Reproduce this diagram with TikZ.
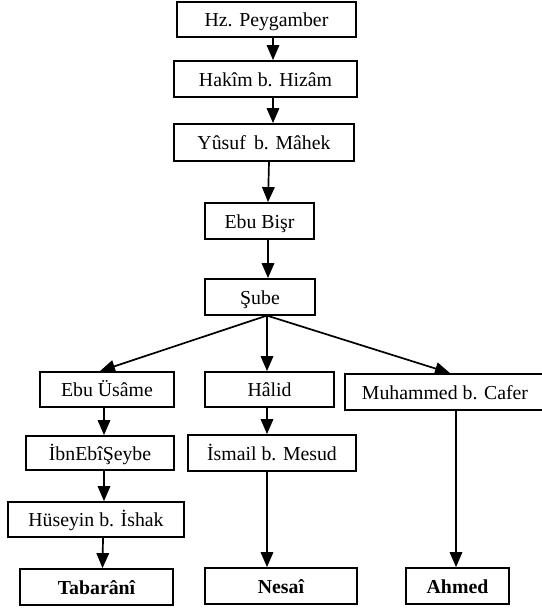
\documentclass[tikz,border=0pt]{standalone}
\usepackage{fontspec}
\setmainfont{Liberation Serif}
\usetikzlibrary{arrows.meta}
\begin{document}
\begin{tikzpicture}[x=1pt,y=-1pt,
  box/.style={draw, line width=1.8pt, inner sep=0pt, align=center,
    font=\fontsize{19.8}{22}\selectfont, text height=14pt, text depth=0pt},
  endbox/.style={box, font=\fontsize{19.8}{22}\selectfont\bfseries},
  arr/.style={line width=1.7pt, -{Triangle[length=15pt,width=12.5pt]}}]
\useasboundingbox (0,0) rectangle (541,610);
\fill[white] (0,0) rectangle (541,610);

% chain of narrators, top part
\node[box, minimum width=179pt, minimum height=35pt] (hz)     at (266.5,19.5) {Hz. Peygamber};
\node[box, minimum width=183pt, minimum height=36pt] (hakim)  at (265.5,79)   {Hakîm b. Hizâm};
\node[box, minimum width=180pt, minimum height=37pt] (yusuf)  at (264,142.5)  {Yûsuf\, b. Mâhek};
\node[box, minimum width=109pt, minimum height=36pt] (bisr)   at (259.5,221)  {Ebu Bişr};
\node[box, minimum width=110pt, minimum height=36pt] (sube)   at (260,297)    {Şube};

% three branches
\node[box, minimum width=134pt, minimum height=35pt] (usame)  at (107,389.5)  {Ebu Üsâme};
\node[box, minimum width=129pt, minimum height=35pt] (halid)  at (269.5,389.5){Hâlid};
\node[box, minimum width=200pt, minimum height=36pt] (muh)    at (445,392)    {Muhammed b. Cafer};
\node[box, minimum width=148pt, minimum height=34pt] (ibn)    at (100,453)    {İbnEbîŞeybe};
\node[box, minimum width=168pt, minimum height=36pt] (ismail) at (272,453)    {İsmail b. Mesud};
\node[box, minimum width=176pt, minimum height=35pt] (huseyin) at (96,519.5)  {Hüseyin b. İshak};

% compilers
\node[endbox, minimum width=153pt, minimum height=36pt] (tab)   at (96.5,587) {Tabarânî};
\node[endbox, minimum width=152pt, minimum height=36pt] (nesai) at (281,586)  {Nesaî};
\node[endbox, minimum width=103pt, minimum height=36pt] (ahmed) at (457.5,586){Ahmed};

% connectors
\draw[arr] ([xshift=6.5pt]hz.south)    -- ([xshift=7.5pt]hakim.north);
\draw[arr] ([xshift=7.5pt]hakim.south) -- ([xshift=9pt]yusuf.north);
\draw[arr] ([xshift=5pt]yusuf.south)   -- ([xshift=8.5pt]bisr.north);
\draw[arr] ([xshift=8.5pt]bisr.south)  -- ([xshift=8pt]sube.north);
\draw[arr] ([xshift=6pt]sube.south)    -- ([xshift=-7pt]usame.north);
\draw[arr] ([xshift=7pt]sube.south)    -- ([xshift=-2.5pt]halid.north);
\draw[arr] ([xshift=8pt]sube.south)    -- ([xshift=5pt]muh.north);
\draw[arr] ([xshift=-3pt]usame.south)  -- ([xshift=4pt]ibn.north);
\draw[arr] ([xshift=4pt]ibn.south)     -- ([xshift=8pt]huseyin.north);
\draw[arr] ([xshift=7pt]huseyin.south) -- ([xshift=6pt]tab.north);
\draw[arr] ([xshift=-2.5pt]halid.south) -- ([xshift=-5pt]ismail.north);
\draw[arr] ([xshift=-5pt]ismail.south) -- ([xshift=-14pt]nesai.north);
\draw[arr] ([xshift=11pt]muh.south)    -- ([xshift=-1.5pt]ahmed.north);
\end{tikzpicture}
\end{document}
